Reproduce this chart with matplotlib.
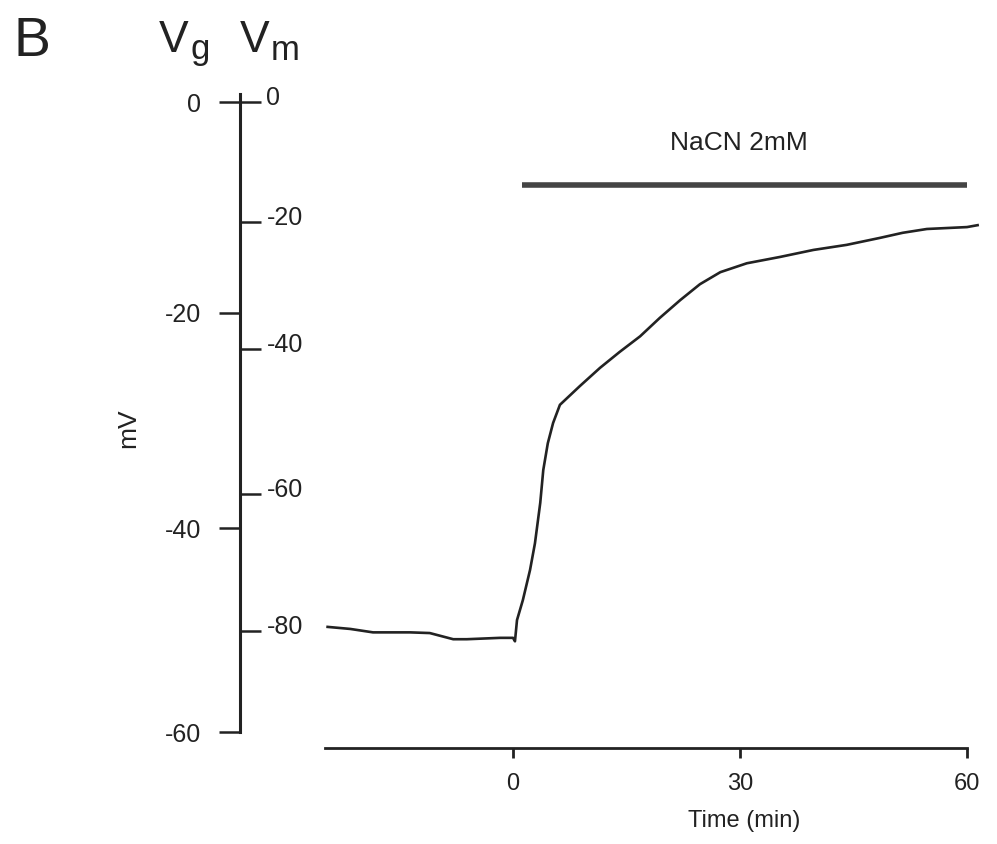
import numpy as np
import matplotlib
matplotlib.use("Agg")
import matplotlib.pyplot as plt
from matplotlib.transforms import ScaledTranslation

plt.rcParams['font.family'] = ['Liberation Sans', 'DejaVu Sans']

# ---------------- data ----------------
time_min = [-24.5, -21.5, -18.5, -13.6, -11.0, -7.9, -6.1, -1.7, 0.0, 0.26,
            0.53, 1.3, 2.25, 2.9, 3.6, 4.0, 4.6, 5.3, 6.2, 8.85,
            11.5, 14.1, 16.8, 19.4, 22.1, 24.7, 27.4, 30.9,
            35.3, 39.7, 44.1, 48.5, 51.5, 54.7, 60.0, 61.4]
vm_mV = [-79.4, -79.7, -80.2, -80.2, -80.3, -81.2, -81.2, -81.0, -81.0, -81.5,
         -78.4, -75.5, -71.1, -67.2, -61.3, -56.7, -53.0, -50.2, -47.7, -45.1,
         -42.6, -40.4, -38.0, -35.1, -32.3, -29.8, -27.9, -26.5,
         -25.5, -24.4, -23.6, -22.5, -21.7, -21.1, -20.8, -20.5]

time_ticks = [0, 30, 60]
vm_ticks = [0, -20, -40, -60, -80]
vg_ticks = [0, -20, -40, -60]

nacn_label = 'NaCN 2mM'
nacn_start, nacn_end = 1.2, 60.0
nacn_level_mV = -13.8

# ---------------- layout (pixel rows of the hand-drawn scales) ----------------
W, H = 997, 844
VM_ROWS = [102, 222, 349, 494, 631]
VG_ROWS = [102, 313, 528, 732]


def piecewise_scale(vals, rows):
    v = np.asarray(vals, float)
    r = -np.asarray(rows, float)
    o = np.argsort(v)
    v, r = v[o], r[o]

    def fwd(x):
        x = np.asarray(x, float)
        y = np.interp(x, v, r)
        y = np.where(x < v[0], r[0] + (x - v[0]) * (r[1] - r[0]) / (v[1] - v[0]), y)
        y = np.where(x > v[-1], r[-1] + (x - v[-1]) * (r[-1] - r[-2]) / (v[-1] - v[-2]), y)
        return y

    def inv(y):
        y = np.asarray(y, float)
        x = np.interp(y, r, v)
        x = np.where(y < r[0], v[0] + (y - r[0]) * (v[1] - v[0]) / (r[1] - r[0]), x)
        x = np.where(y > r[-1], v[-1] + (y - r[-1]) * (v[-1] - v[-2]) / (r[-1] - r[-2]), x)
        return x

    return fwd, inv


vm_fwd, vm_inv = piecewise_scale(vm_ticks, VM_ROWS)
vg_fwd, vg_inv = piecewise_scale(vg_ticks, VG_ROWS)

INK = '#222222'
ax_left, ax_right, ax_top, ax_bot = 240, 990, 80, 748
rect = [ax_left / W, 1 - ax_bot / H, (ax_right - ax_left) / W, (ax_bot - ax_top) / H]

fig = plt.figure(figsize=(W / 100, H / 100), dpi=100)
fig.patch.set_facecolor('white')

# ---- main axes: time vs Vm ----
ax = fig.add_axes(rect)
ax.patch.set_visible(False)
ax.set_yscale('function', functions=(vm_fwd, vm_inv))
t0_px, px_per_min = 513, 7.567
ax.set_xlim((ax_left - t0_px) / px_per_min, (ax_right - t0_px) / px_per_min)
ax.set_ylim(float(vm_inv(-ax_bot)), float(vm_inv(-ax_top)))

ax.plot(time_min, vm_mV, color=INK, lw=1.9, solid_joinstyle='round')
ax.plot([nacn_start, nacn_end], [nacn_level_mV, nacn_level_mV], color='#444444', lw=4.0,
        solid_capstyle='butt')
ax.text((nacn_start + nacn_end) / 2 - 0.8, -6.9, nacn_label, ha='center', va='center',
        fontsize=19, color=INK)

for s in ['left', 'top']:
    ax.spines[s].set_visible(False)
ax.spines['right'].set_position(('axes', 0))
ax.spines['right'].set_visible(False)
ax.spines['bottom'].set_bounds(-24.9, 60)
ax.spines['bottom'].set_linewidth(2.0)
ax.spines['bottom'].set_color(INK)

ax.set_xticks(time_ticks, labels=[str(t) for t in time_ticks])
ax.tick_params(axis='x', direction='out', length=7, width=2, pad=11, labelsize=17,
               colors=INK)
ax.set_xlabel('Time (min)', fontsize=17, color=INK, labelpad=11,
              x=(744 - ax_left) / (ax_right - ax_left))

ax.yaxis.tick_right()
ax.set_yticks(vm_ticks, labels=[str(v) for v in vm_ticks])
ax.tick_params(axis='y', direction='out', length=15, width=1.8, pad=4, labelsize=18,
               colors=INK)
for lbl in ax.get_yticklabels():
    lbl.set_transform(lbl.get_transform() + ScaledTranslation(0, 5 / 72, fig.dpi_scale_trans))

# ---- overlay axes: Vg scale ----
ax2 = fig.add_axes(rect)
ax2.patch.set_visible(False)
ax2.set_yscale('function', functions=(vg_fwd, vg_inv))
ax2.set_ylim(float(vg_inv(-ax_bot)), float(vg_inv(-ax_top)))
ax2.xaxis.set_visible(False)
for s in ['right', 'top', 'bottom']:
    ax2.spines[s].set_visible(False)
ax2.spines['left'].set_bounds(-60, 0.8)
ax2.spines['left'].set_linewidth(2.2)
ax2.spines['left'].set_color(INK)
ax2.set_yticks(vg_ticks, labels=[str(v) for v in vg_ticks])
ax2.tick_params(axis='y', direction='out', length=15, width=1.8, pad=13, labelsize=18,
                colors=INK)

# ---- header texts ----
fig.text(13 / W, 1 - 56 / H, 'B', fontsize=40, color=INK, ha='left', va='baseline')
fig.text(159 / W, 1 - 52 / H, 'V', fontsize=32, color=INK, ha='left', va='baseline')
fig.text(190 / W, 1 - 59 / H, 'g', fontsize=25, color=INK, ha='left', va='baseline')
fig.text(240 / W, 1 - 52 / H, 'V', fontsize=32, color=INK, ha='left', va='baseline')
fig.text(271 / W, 1 - 60 / H, 'm', fontsize=25, color=INK, ha='left', va='baseline')
fig.text(128 / W, 1 - 428 / H, 'mV', fontsize=19, color=INK, rotation=90,
         ha='center', va='center')

fig.savefig('out.png', dpi=100)
